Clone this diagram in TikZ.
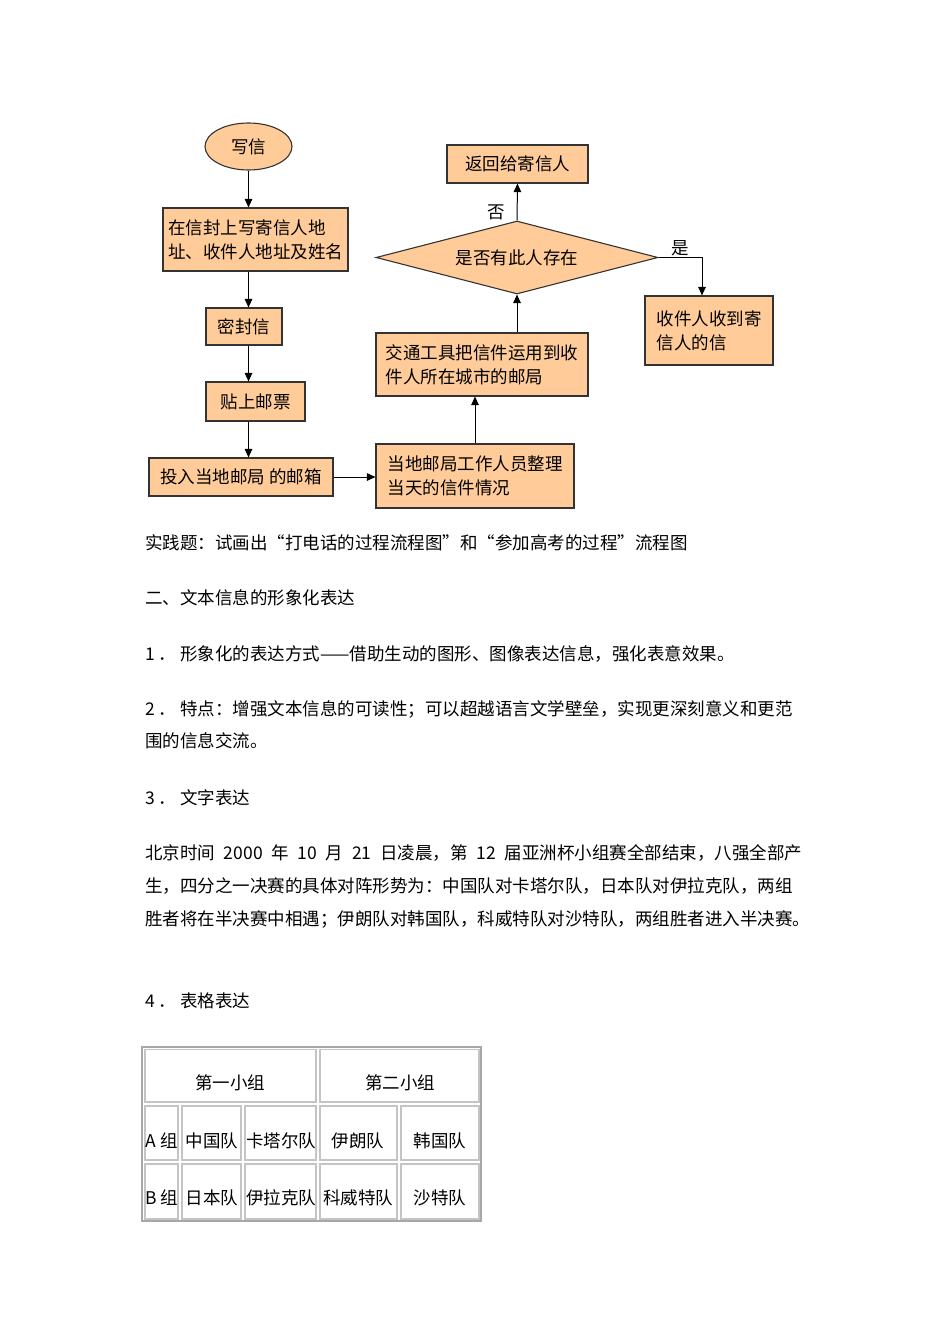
\documentclass[tikz,border=0pt]{standalone}
\usepackage{fontspec}
\setmainfont{Noto Sans CJK SC}
\usetikzlibrary{shapes.geometric,arrows.meta}

\definecolor{boxfill}{HTML}{FFCC99}
\definecolor{boxline}{HTML}{333333}
\definecolor{gridgray}{HTML}{C4C4C4}
\newcommand{\flowtxt}{\fontsize{17.5bp}{24bp}\selectfont}
\newcommand{\paratxt}{\fontsize{17.5bp}{24bp}\selectfont}

\begin{document}
\begin{tikzpicture}[x=1bp, y=-1bp,
        procbox/.style={draw=boxline, fill=boxfill, line width=1.1bp, align=left, inner sep=0pt, font=\flowtxt},
        arr/.style={draw=black, line width=1bp, -{Triangle[length=8.5bp,width=7.5bp]}},
        para/.style={anchor=west, inner sep=0pt, font=\paratxt},
        cellline/.style={draw=gridgray, line width=1.3bp}]
    \fill[white] (0,0) rectangle (950,1344);
    \useasboundingbox (0,0) rectangle (950,1344);

    % flow chart: sending a letter
    \node[procbox, ellipse, minimum width=87bp, minimum height=47bp] (write) at (248.5,146.5) {写信};
    \node[procbox, minimum width=185bp, minimum height=63bp] (addr) at (255.5,239.5) {在信封上写寄信人地\\址、收件人地址及姓名};
    \node[procbox, minimum width=76bp, minimum height=37bp] (seal) at (244,326.5) {密封信};
    \node[procbox, minimum width=99bp, minimum height=39bp] (stamp) at (255.5,401.5) {贴上邮票};
    \node[procbox, minimum width=184bp, minimum height=38bp] (drop) at (241,477) {投入当地邮局 的邮箱};
    \node[procbox, minimum width=198bp, minimum height=64bp] (sort) at (475,476) {当地邮局工作人员整理\\当天的信件情况};
    \node[procbox, minimum width=212bp, minimum height=63bp] (transport) at (482,364.5) {交通工具把信件运用到收\\件人所在城市的邮局};
    \node[procbox, diamond, aspect=3.86, minimum width=282bp, minimum height=73bp] (check) at (517,257.5) {是否有此人存在};
    \node[procbox, minimum width=141bp, minimum height=38bp] (back) at (517.5,164) {返回给寄信人};
    \node[procbox, minimum width=128bp, minimum height=69bp] (recv) at (709,330.5) {收件人收到寄\\信人的信};

    \draw[arr] (write.south) -- (write.south |- addr.north);
    \draw[arr] (write.south |- addr.south) -- (write.south |- seal.north);
    \draw[arr] (write.south |- seal.south) -- (write.south |- stamp.north);
    \draw[arr] (write.south |- stamp.south) -- (write.south |- drop.north);
    \draw[arr] (drop.east) -- (drop.east -| sort.west);
    \draw[arr] (sort.north) -- (sort.north |- transport.south);
    \draw[arr] (check.south |- transport.north) -- (check.south);
    \draw[arr] (check.north) -- (back.south)
        node[pos=0.22, left=12bp, inner sep=0pt, font=\flowtxt] (no) {否};
    \draw[arr] (check.east) -| ([xshift=-7bp]recv.north)
        node[pos=0.25, above=1bp, inner sep=0pt, font=\flowtxt] (yes) {是};

    % text below the chart
    \node[para] (p1) at (145,543) {实践题：试画出“打电话的过程流程图”和“参加高考的过程”流程图};
    \node[para] (p2) at (145,598) {二、文本信息的形象化表达};
    \node[para] (p3) at (145,654) {1 ． 形象化的表达方式——借助生动的图形、图像表达信息，强化表意效果。};
    \node[para] (p4) at (145,709) {2 ． 特点：增强文本信息的可读性；可以超越语言文学壁垒，实现更深刻意义和更范};
    \node[para] (p5) at (145,741) {围的信息交流。};
    \node[para] (p6) at (145,798) {3 ． 文字表达};
    \node[para] (p7) at (145,853) {北京时间\enspace{}2000\enspace{}年\enspace{}10\enspace{}月\enspace{}21\enspace{}日凌晨，第\enspace{}12\enspace{}届亚洲杯小组赛全部结束，八强全部产};
    \node[para] (p8) at (145,886) {生，四分之一决赛的具体对阵形势为：中国队对卡塔尔队，日本队对伊拉克队，两组};
    \node[para] (p9) at (145,919) {胜者将在半决赛中相遇；伊朗队对韩国队，科威特队对沙特队，两组胜者进入半决赛。};
    \node[para] (p10) at (145,1001) {4 ． 表格表达};

    % table of the two groups
    \draw[gridgray!85!black, line width=2bp] (142,1047) rectangle (481,1221);
    \draw[cellline] (145,1049.5) rectangle (316,1102);
    \draw[cellline] (320,1049.5) rectangle (479,1102);
    \foreach \ya/\yb in {1106/1160, 1164/1219}
        \foreach \xa/\xb in {145/178, 182/241, 245/316, 320/397, 401/479}
            \draw[cellline] (\xa,\ya) rectangle (\xb,\yb);
    \node[para, anchor=center] (g1) at (230,1083) {第一小组};
    \node[para, anchor=center] (g2) at (400,1083) {第二小组};
    \node[para, anchor=center] (a0) at (161.5,1141) {A 组};
    \node[para, anchor=center] (a1) at (212,1141) {中国队};
    \node[para, anchor=center] (a2) at (281,1141) {卡塔尔队};
    \node[para, anchor=center] (a3) at (358,1141) {伊朗队};
    \node[para, anchor=center] (a4) at (440,1141) {韩国队};
    \node[para, anchor=center] (b0) at (161.5,1198) {B 组};
    \node[para, anchor=center] (b1) at (212,1198) {日本队};
    \node[para, anchor=center] (b2) at (281,1198) {伊拉克队};
    \node[para, anchor=center] (b3) at (358,1198) {科威特队};
    \node[para, anchor=center] (b4) at (440,1198) {沙特队};
\end{tikzpicture}
\end{document}
